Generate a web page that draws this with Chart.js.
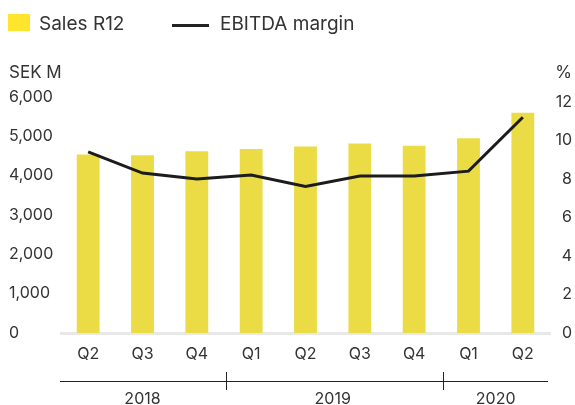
<!DOCTYPE html>
<html>
<head>
<meta charset="utf-8">
<script src="https://cdn.jsdelivr.net/npm/chart.js@4"></script>
<style>
  html, body { margin: 0; padding: 0; background: #fff; }
  body { width: 575px; height: 405px; position: relative; overflow: hidden;
         font-family: Inter, "Open Sans", sans-serif; color: #333; }
  #chart { position: absolute; left: 0; top: 0; }
  .lbl { position: absolute; font-size: 16px; line-height: 20px; white-space: nowrap; }
  .big { font-size: 19px; line-height: 22px; }
  .swatch { position: absolute; left: 8px; top: 14px; width: 22px; height: 17px; background: #ffe52b; }
  .dash { position: absolute; left: 172px; top: 24px; width: 37px; height: 3px; background: #222; }
</style>
</head>
<body>
<canvas id="chart" width="575" height="405"></canvas>
<div class="swatch"></div>
<div class="lbl big" style="left:39px;top:13px;">Sales R12</div>
<div class="dash"></div>
<div class="lbl big" style="left:220px;top:13px;">EBITDA margin</div>
<div class="lbl" style="left:9px;top:62px;font-size:17px;">SEK M</div>
<div class="lbl" style="right:3px;top:62px;font-size:17px;">%</div>
<script>
// quarters on the x axis, grouped by year underneath
const quarters = ['Q2', 'Q3', 'Q4', 'Q1', 'Q2', 'Q3', 'Q4', 'Q1', 'Q2'];
const years = ['2018', '2019', '2020'];
const yearStart = [0, 3, 7];   // first quarter index of each year
const yearEnd = [2, 6, 8];     // last quarter index of each year

// Sales R12, SEK M
const salesR12 = [4540, 4520, 4620, 4680, 4740, 4820, 4760, 4950, 5600];
// EBITDA margin, %
const ebitdaMargin = [9.4, 8.3, 8.0, 8.2, 7.6, 8.15, 8.15, 8.4, 11.2];

const tickFont = { family: 'Inter, "Open Sans", sans-serif', size: 16 };
const textColor = '#333';

// draws the year row with its divider line under the quarter labels
const yearRow = {
  id: 'yearRow',
  afterDraw(chart) {
    const { ctx } = chart;
    const x = chart.scales.x;
    const lineY = 381;
    ctx.save();
    ctx.strokeStyle = '#222';
    ctx.lineWidth = 1;
    ctx.beginPath();
    ctx.moveTo(60, lineY + 0.5);
    ctx.lineTo(548, lineY + 0.5);
    for (let i = 1; i < years.length; i++) {
      const px = Math.round((x.getPixelForValue(yearEnd[i - 1]) + x.getPixelForValue(yearStart[i])) / 2) + 2.5;
      ctx.moveTo(px, lineY - 9);
      ctx.lineTo(px, lineY + 9);
    }
    ctx.stroke();
    ctx.fillStyle = textColor;
    ctx.font = '16px Inter, "Open Sans", sans-serif';
    ctx.textAlign = 'center';
    ctx.textBaseline = 'middle';
    years.forEach((yr, i) => {
      const cx = (x.getPixelForValue(yearStart[i]) + x.getPixelForValue(yearEnd[i])) / 2;
      ctx.fillText(yr, cx, 399);
    });
    ctx.restore();
  }
};

new Chart(document.getElementById('chart'), {
  data: {
    labels: quarters,
    datasets: [
      {
        type: 'line',
        label: 'EBITDA margin',
        data: ebitdaMargin,
        yAxisID: 'y1',
        borderColor: '#1c1c1c',
        borderWidth: 3,
        pointRadius: 0,
        tension: 0,
        order: 0,
      },
      {
        type: 'bar',
        label: 'Sales R12',
        data: salesR12,
        yAxisID: 'y',
        backgroundColor: '#ebdb45',
        barPercentage: 0.42,
        categoryPercentage: 1,
        order: 1,
      },
    ],
  },
  options: {
    responsive: false,
    animation: false,
    layout: { padding: { top: 97, left: 9, right: 3, bottom: 0 } },
    plugins: { legend: { display: false }, tooltip: { enabled: false } },
    scales: {
      x: {
        grid: { display: false, drawTicks: false },
        border: { display: true, color: '#e8e8e8', width: 3 },
        ticks: { color: textColor, font: tickFont, padding: 12, maxRotation: 0 },
        afterFit: s => { s.height = 72; },
      },
      y: {
        position: 'left',
        min: 0,
        max: 6000,
        grid: { display: false, drawTicks: false },
        border: { display: false },
        ticks: {
          stepSize: 1000,
          color: textColor,
          font: tickFont,
          crossAlign: 'far',
          callback: v => v.toLocaleString('en-US'),
        },
        afterFit: s => { s.width = 52; },
      },
      y1: {
        position: 'right',
        min: 0,
        max: 12.25,
        grid: { display: false, drawTicks: false },
        border: { display: false },
        ticks: { stepSize: 2, includeBounds: false, color: textColor, font: tickFont, crossAlign: 'far' },
        afterBuildTicks: s => { s.ticks = s.ticks.filter(t => t.value <= 12); },
        afterFit: s => { s.width = 22; },
      },
    },
  },
  plugins: [yearRow],
});
</script>
</body>
</html>
